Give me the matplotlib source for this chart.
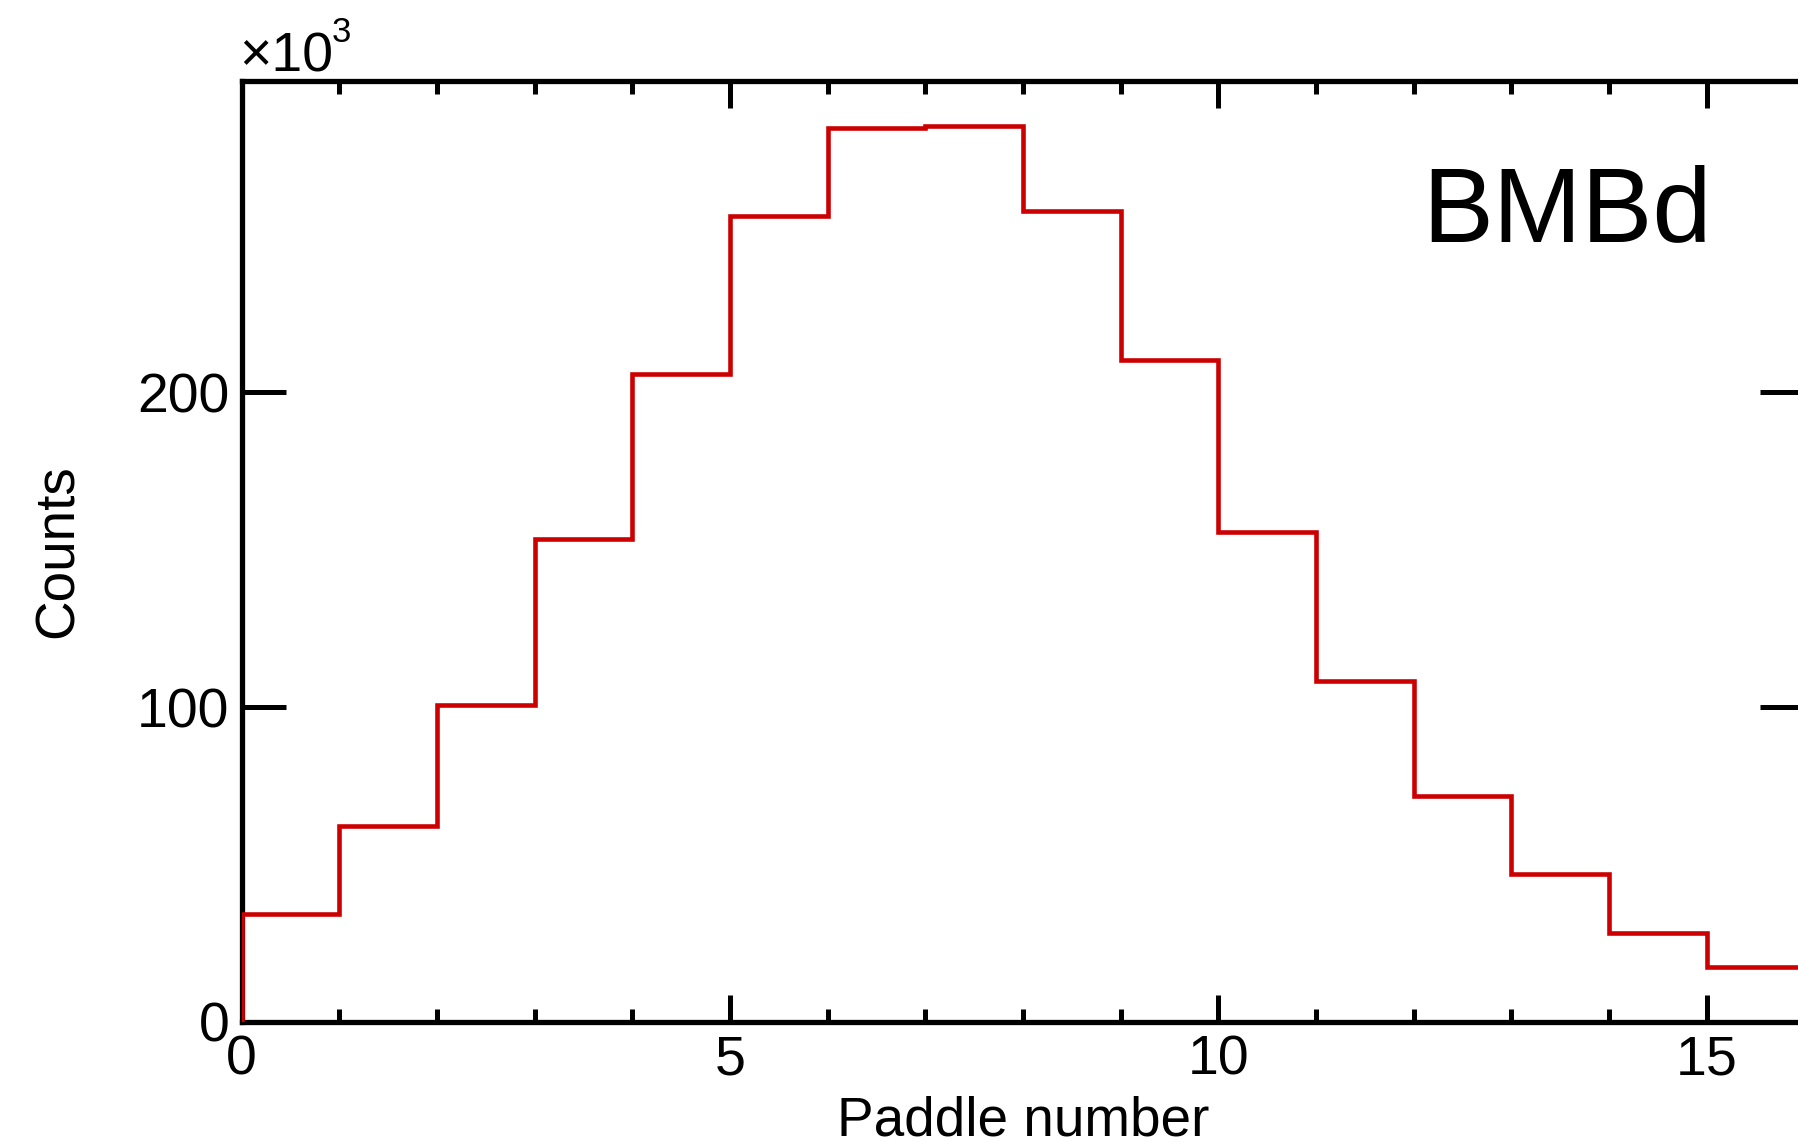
import numpy as np
import matplotlib
matplotlib.use("Agg")
import matplotlib.pyplot as plt
from matplotlib.ticker import MultipleLocator

# ---------------------------------------------
# Histogram data: hits per paddle (BMBd)
# ---------------------------------------------
PADDLE_EDGES = list(range(17))
COUNTS = [34300, 62400, 100600, 153400, 205700, 255900, 284000, 284700,
          257600, 210200, 155800, 108300, 71700, 46900, 28300, 17600]
Y_TICKS = [0, 100, 200]
X_TICKS = [0, 5, 10, 15]
DETECTOR = "BMBd"

plt.rcParams['font.family'] = ['Liberation Sans', 'DejaVu Sans']

W, H = 1799, 1142
fig = plt.figure(figsize=(W / 100, H / 100), dpi=100)

# axes run a little past the right edge of the canvas
left, right, bottom, top = 241.7, 1804.4, 1022.0, 81.0
ax = fig.add_axes([left / W, 1 - bottom / H, (right - left) / W, (bottom - top) / H])

counts_k = np.array(COUNTS) / 1e3
ax.stairs(counts_k, PADDLE_EDGES, baseline=0, color='#cc0000', lw=3.3, zorder=3)

ax.set_xlim(0, 16)
ax.set_ylim(0, counts_k.max() * 1.05)

for s in ax.spines.values():
    s.set_linewidth(3.8)
    s.set_zorder(2.5)

ax.set_xticks(X_TICKS)
ax.xaxis.set_minor_locator(MultipleLocator(1))
ax.set_yticks(Y_TICKS)
ax.set_xticklabels([str(v) for v in X_TICKS])
ax.set_yticklabels([str(v) for v in Y_TICKS])

ax.tick_params(axis='x', which='major', direction='in', top=True, length=19.5,
               width=3.6, labelsize=40, pad=9)
ax.tick_params(axis='x', which='minor', direction='in', top=True, length=9.5, width=3.6)
ax.tick_params(axis='y', which='major', direction='in', right=True, length=32,
               width=3.6, labelsize=40, pad=9)

ax.set_xlabel("Paddle number", fontsize=39.5)
ax.xaxis.set_label_coords(0.5, -(1136 - bottom) / (bottom - top))
ax.xaxis.label.set_va('baseline')

ax.set_ylabel("Counts", fontsize=39.5)
ax.yaxis.set_label_coords(-(left - 73) / (right - left), 0.5)
ax.yaxis.label.set_va('baseline')

# exponent marker above the y axis
fig.text(239 / W, 1 - 71.7 / H, "\u00d710", fontsize=40, ha='left', va='baseline')
fig.text(332 / W, 1 - 42 / H, "3", fontsize=25, ha='left', va='baseline')

ax.text(1422 / W, 1 - 241 / H, DETECTOR, transform=fig.transFigure,
        fontsize=76.5, ha='left', va='baseline')

fig.savefig("out.png", dpi=100)
